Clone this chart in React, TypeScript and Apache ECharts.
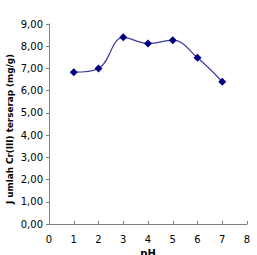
import React, { useEffect, useRef } from "react";
import * as echarts from "echarts";

const phValues = [1, 2, 3, 4, 5, 6, 7];
const adsorbed = [6.83, 7.0, 8.4, 8.12, 8.27, 7.48, 6.4];
const yTitle = "J umlah Cr(III) terserap (mg/g)";
const xTitle = "pH";

export default function App() {
  const ref = useRef<HTMLDivElement>(null);
  useEffect(() => {
    const chart = echarts.init(ref.current!, null, { renderer: "svg" });
    chart.setOption({
      animation: false,
      backgroundColor: "#ffffff",
      grid: { left: 49, right: 10, top: 24, bottom: 31, containLabel: false, outerBoundsMode: "none" },
      graphic: [
        {
          type: "text",
          x: 10,
          y: 129,
          rotation: Math.PI / 2,
          style: {
            text: yTitle,
            fontFamily: "DejaVu Sans",
            fontWeight: "bold",
            fontSize: 8.8,
            fill: "#000",
            align: "center",
            verticalAlign: "middle",
          },
        },
      ],
      xAxis: {
        type: "value",
        min: 0,
        max: 8,
        interval: 1,
        name: xTitle,
        nameLocation: "middle",
        nameGap: 18,
        nameTextStyle: { fontFamily: "DejaVu Sans", fontWeight: "bold", fontSize: 10, color: "#000" },
        axisLine: { lineStyle: { color: "#808080", width: 1 } },
        axisTick: { inside: true, length: 3, lineStyle: { color: "#808080" } },
        axisLabel: { fontFamily: "DejaVu Sans", fontSize: 10, color: "#000", margin: 10 },
        splitLine: { show: false },
      },
      yAxis: {
        type: "value",
        min: 0,
        max: 9,
        interval: 1,
        axisLine: { show: true, lineStyle: { color: "#808080", width: 1 } },
        axisTick: { show: true, length: 3, lineStyle: { color: "#808080" } },
        axisLabel: {
          fontFamily: "DejaVu Sans",
          fontSize: 10,
          color: "#000",
          margin: 6,
          formatter: (v: number) => v.toFixed(2).replace(".", ","),
        },
        splitLine: { show: false },
      },
      series: [
        {
          type: "line",
          data: phValues.map((p, i) => [p, adsorbed[i]]),
          smooth: 0.4,
          symbol: "diamond",
          symbolSize: 8,
          itemStyle: { color: "#000080" },
          lineStyle: { color: "#3a3aa0", width: 1.2 },
        },
      ],
    });
    return () => chart.dispose();
  }, []);
  return <div ref={ref} style={{ width: 257, height: 255, position: "absolute", left: 0, top: 0 }} />;
}
